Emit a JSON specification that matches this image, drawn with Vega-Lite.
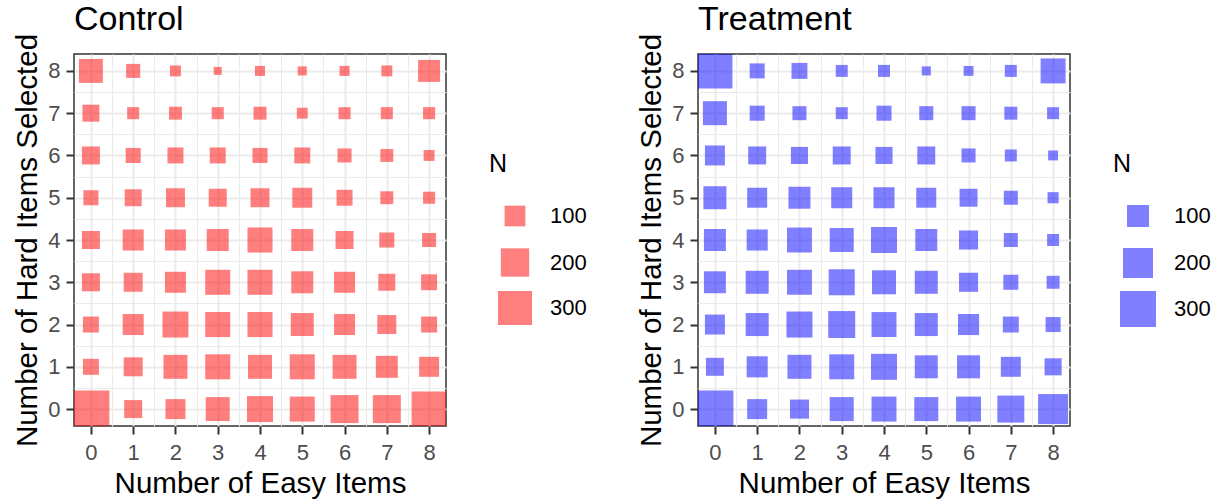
{
  "$schema": "https://vega.github.io/schema/vega-lite/v6.json",
  "padding": {"left": 12, "top": 2, "right": 0, "bottom": 0},
  "config": {
    "font": "Liberation Sans",
    "view": {"stroke": "#333333", "strokeWidth": 1.5},
    "axis": {
      "domain": false,
      "gridColor": "#EBEBEB",
      "tickColor": "#333333",
      "tickWidth": 2,
      "tickSize": 8,
      "labelFontSize": 22,
      "labelColor": "#4D4D4D",
      "titleFontSize": 29.5,
      "titleFontWeight": "normal",
      "titleColor": "#000000"
    },
    "axisX": {"labelPadding": 8, "titlePadding": 6},
    "axisY": {"labelPadding": 6, "titlePadding": 5},
    "legend": {
      "titleFontSize": 25,
      "titleFontWeight": "normal",
      "titleColor": "#000000",
      "labelFontSize": 22,
      "labelColor": "#000000",
      "labelOffset": 18,
      "titlePadding": 28,
      "gridAlign": "all",
      "symbolType": "square",
      "symbolStrokeWidth": 0,
      "symbolOpacity": 0.5
    },
    "title": {"fontSize": 34, "fontWeight": "normal", "color": "#000000", "anchor": "start", "frame": "group", "offset": -4}
  },
  "datasets": {
    "control": [
      {"easy": 0, "hard": 8, "N": 138}, {"easy": 1, "hard": 8, "N": 42}, {"easy": 2, "hard": 8, "N": 24}, {"easy": 3, "hard": 8, "N": 12}, {"easy": 4, "hard": 8, "N": 20}, {"easy": 5, "hard": 8, "N": 16}, {"easy": 6, "hard": 8, "N": 20}, {"easy": 7, "hard": 8, "N": 24}, {"easy": 8, "hard": 8, "N": 114},
      {"easy": 0, "hard": 7, "N": 64}, {"easy": 1, "hard": 7, "N": 30}, {"easy": 2, "hard": 7, "N": 35}, {"easy": 3, "hard": 7, "N": 30}, {"easy": 4, "hard": 7, "N": 35}, {"easy": 5, "hard": 7, "N": 24}, {"easy": 6, "hard": 7, "N": 30}, {"easy": 7, "hard": 7, "N": 30}, {"easy": 8, "hard": 7, "N": 30},
      {"easy": 0, "hard": 6, "N": 73}, {"easy": 1, "hard": 6, "N": 49}, {"easy": 2, "hard": 6, "N": 56}, {"easy": 3, "hard": 6, "N": 56}, {"easy": 4, "hard": 6, "N": 49}, {"easy": 5, "hard": 6, "N": 56}, {"easy": 6, "hard": 6, "N": 42}, {"easy": 7, "hard": 6, "N": 35}, {"easy": 8, "hard": 6, "N": 24},
      {"easy": 0, "hard": 5, "N": 49}, {"easy": 1, "hard": 5, "N": 64}, {"easy": 2, "hard": 5, "N": 82}, {"easy": 3, "hard": 5, "N": 73}, {"easy": 4, "hard": 5, "N": 82}, {"easy": 5, "hard": 5, "N": 92}, {"easy": 6, "hard": 5, "N": 56}, {"easy": 7, "hard": 5, "N": 35}, {"easy": 8, "hard": 5, "N": 30},
      {"easy": 0, "hard": 4, "N": 73}, {"easy": 1, "hard": 4, "N": 103}, {"easy": 2, "hard": 4, "N": 103}, {"easy": 3, "hard": 4, "N": 114}, {"easy": 4, "hard": 4, "N": 152}, {"easy": 5, "hard": 4, "N": 114}, {"easy": 6, "hard": 4, "N": 73}, {"easy": 7, "hard": 4, "N": 49}, {"easy": 8, "hard": 4, "N": 42},
      {"easy": 0, "hard": 3, "N": 73}, {"easy": 1, "hard": 3, "N": 82}, {"easy": 2, "hard": 3, "N": 103}, {"easy": 3, "hard": 3, "N": 152}, {"easy": 4, "hard": 3, "N": 152}, {"easy": 5, "hard": 3, "N": 114}, {"easy": 6, "hard": 3, "N": 103}, {"easy": 7, "hard": 3, "N": 64}, {"easy": 8, "hard": 3, "N": 56},
      {"easy": 0, "hard": 2, "N": 56}, {"easy": 1, "hard": 2, "N": 103}, {"easy": 2, "hard": 2, "N": 165}, {"easy": 3, "hard": 2, "N": 152}, {"easy": 4, "hard": 2, "N": 152}, {"easy": 5, "hard": 2, "N": 126}, {"easy": 6, "hard": 2, "N": 103}, {"easy": 7, "hard": 2, "N": 82}, {"easy": 8, "hard": 2, "N": 56},
      {"easy": 0, "hard": 1, "N": 56}, {"easy": 1, "hard": 1, "N": 82}, {"easy": 2, "hard": 1, "N": 138}, {"easy": 3, "hard": 1, "N": 152}, {"easy": 4, "hard": 1, "N": 138}, {"easy": 5, "hard": 1, "N": 152}, {"easy": 6, "hard": 1, "N": 138}, {"easy": 7, "hard": 1, "N": 114}, {"easy": 8, "hard": 1, "N": 92},
      {"easy": 0, "hard": 0, "N": 362}, {"easy": 1, "hard": 0, "N": 73}, {"easy": 2, "hard": 0, "N": 92}, {"easy": 3, "hard": 0, "N": 138}, {"easy": 4, "hard": 0, "N": 165}, {"easy": 5, "hard": 0, "N": 152}, {"easy": 6, "hard": 0, "N": 195}, {"easy": 7, "hard": 0, "N": 195}, {"easy": 8, "hard": 0, "N": 320}
    ],
    "treatment": [
      {"easy": 0, "hard": 8, "N": 282}, {"easy": 1, "hard": 8, "N": 43}, {"easy": 2, "hard": 8, "N": 49}, {"easy": 3, "hard": 8, "N": 26}, {"easy": 4, "hard": 8, "N": 26}, {"easy": 5, "hard": 8, "N": 14}, {"easy": 6, "hard": 8, "N": 17}, {"easy": 7, "hard": 8, "N": 26}, {"easy": 8, "hard": 8, "N": 133},
      {"easy": 0, "hard": 7, "N": 122}, {"easy": 1, "hard": 7, "N": 43}, {"easy": 2, "hard": 7, "N": 37}, {"easy": 3, "hard": 7, "N": 26}, {"easy": 4, "hard": 7, "N": 43}, {"easy": 5, "hard": 7, "N": 37}, {"easy": 6, "hard": 7, "N": 37}, {"easy": 7, "hard": 7, "N": 31}, {"easy": 8, "hard": 7, "N": 26},
      {"easy": 0, "hard": 6, "N": 81}, {"easy": 1, "hard": 6, "N": 64}, {"easy": 2, "hard": 6, "N": 57}, {"easy": 3, "hard": 6, "N": 64}, {"easy": 4, "hard": 6, "N": 57}, {"easy": 5, "hard": 6, "N": 64}, {"easy": 6, "hard": 6, "N": 37}, {"easy": 7, "hard": 6, "N": 26}, {"easy": 8, "hard": 6, "N": 17},
      {"easy": 0, "hard": 5, "N": 111}, {"easy": 1, "hard": 5, "N": 81}, {"easy": 2, "hard": 5, "N": 100}, {"easy": 3, "hard": 5, "N": 91}, {"easy": 4, "hard": 5, "N": 91}, {"easy": 5, "hard": 5, "N": 81}, {"easy": 6, "hard": 5, "N": 64}, {"easy": 7, "hard": 5, "N": 37}, {"easy": 8, "hard": 5, "N": 22},
      {"easy": 0, "hard": 4, "N": 100}, {"easy": 1, "hard": 4, "N": 91}, {"easy": 2, "hard": 4, "N": 133}, {"easy": 3, "hard": 4, "N": 122}, {"easy": 4, "hard": 4, "N": 146}, {"easy": 5, "hard": 4, "N": 100}, {"easy": 6, "hard": 4, "N": 73}, {"easy": 7, "hard": 4, "N": 37}, {"easy": 8, "hard": 4, "N": 26},
      {"easy": 0, "hard": 3, "N": 100}, {"easy": 1, "hard": 3, "N": 111}, {"easy": 2, "hard": 3, "N": 133}, {"easy": 3, "hard": 3, "N": 146}, {"easy": 4, "hard": 3, "N": 122}, {"easy": 5, "hard": 3, "N": 111}, {"easy": 6, "hard": 3, "N": 73}, {"easy": 7, "hard": 3, "N": 43}, {"easy": 8, "hard": 3, "N": 31},
      {"easy": 0, "hard": 2, "N": 81}, {"easy": 1, "hard": 2, "N": 111}, {"easy": 2, "hard": 2, "N": 146}, {"easy": 3, "hard": 2, "N": 158}, {"easy": 4, "hard": 2, "N": 133}, {"easy": 5, "hard": 2, "N": 111}, {"easy": 6, "hard": 2, "N": 91}, {"easy": 7, "hard": 2, "N": 49}, {"easy": 8, "hard": 2, "N": 43},
      {"easy": 0, "hard": 1, "N": 64}, {"easy": 1, "hard": 1, "N": 91}, {"easy": 2, "hard": 1, "N": 122}, {"easy": 3, "hard": 1, "N": 133}, {"easy": 4, "hard": 1, "N": 146}, {"easy": 5, "hard": 1, "N": 111}, {"easy": 6, "hard": 1, "N": 111}, {"easy": 7, "hard": 1, "N": 81}, {"easy": 8, "hard": 1, "N": 57},
      {"easy": 0, "hard": 0, "N": 319}, {"easy": 1, "hard": 0, "N": 81}, {"easy": 2, "hard": 0, "N": 73}, {"easy": 3, "hard": 0, "N": 122}, {"easy": 4, "hard": 0, "N": 133}, {"easy": 5, "hard": 0, "N": 122}, {"easy": 6, "hard": 0, "N": 133}, {"easy": 7, "hard": 0, "N": 158}, {"easy": 8, "hard": 0, "N": 200}
    ]
  },
  "bounds": "flush",
  "spacing": 252,
  "resolve": {"scale": {"size": "independent"}, "legend": {"size": "independent"}},
  "hconcat": [
    {
      "title": {"text": "Control"},
      "width": 372,
      "height": 372,
      "data": {"name": "control"},
      "layer": [
        {
          "mark": {"type": "square", "opacity": 0},
          "encoding": {
            "x": {"field": "easy", "type": "quantitative", "scale": {"domain": [-0.4, 8.4], "nice": false, "zero": false},
                  "axis": {"orient": "bottom", "values": [0.5, 1.5, 2.5, 3.5, 4.5, 5.5, 6.5, 7.5], "grid": true, "gridWidth": 1, "labels": false, "ticks": false, "title": null}},
            "y": {"field": "hard", "type": "quantitative", "scale": {"domain": [-0.4, 8.4], "nice": false, "zero": false},
                  "axis": {"orient": "left", "values": [0.5, 1.5, 2.5, 3.5, 4.5, 5.5, 6.5, 7.5], "grid": true, "gridWidth": 1, "labels": false, "ticks": false, "title": null}}
          }
        },
        {
          "mark": {"type": "square", "color": "#FF0000", "opacity": 0.5, "clip": true},
          "encoding": {
            "x": {"field": "easy", "type": "quantitative", "scale": {"domain": [-0.4, 8.4], "nice": false, "zero": false},
                  "axis": {"orient": "bottom", "title": "Number of Easy Items", "values": [0, 1, 2, 3, 4, 5, 6, 7, 8], "format": "d", "grid": true, "gridWidth": 2}},
            "y": {"field": "hard", "type": "quantitative", "scale": {"domain": [-0.4, 8.4], "nice": false, "zero": false},
                  "axis": {"orient": "left", "title": "Number of Hard Items Selected", "values": [0, 1, 2, 3, 4, 5, 6, 7, 8], "format": "d", "grid": true, "gridWidth": 2}},
            "size": {"field": "N", "type": "quantitative",
                     "scale": {"type": "pow", "exponent": 0.9, "domain": [0, 300], "range": [0, 1156]},
                     "legend": {"title": "N", "values": [100, 200, 300], "orient": "none", "legendX": 415, "legendY": 98, "symbolOffset": 9, "rowPadding": 9, "symbolFillColor": "#FF0000"}}
          }
        }
      ],
      "resolve": {"axis": {"x": "independent", "y": "independent"}}
    },
    {
      "title": {"text": "Treatment"},
      "width": 372,
      "height": 372,
      "data": {"name": "treatment"},
      "layer": [
        {
          "mark": {"type": "square", "opacity": 0},
          "encoding": {
            "x": {"field": "easy", "type": "quantitative", "scale": {"domain": [-0.4, 8.4], "nice": false, "zero": false},
                  "axis": {"orient": "bottom", "values": [0.5, 1.5, 2.5, 3.5, 4.5, 5.5, 6.5, 7.5], "grid": true, "gridWidth": 1, "labels": false, "ticks": false, "title": null}},
            "y": {"field": "hard", "type": "quantitative", "scale": {"domain": [-0.4, 8.4], "nice": false, "zero": false},
                  "axis": {"orient": "left", "values": [0.5, 1.5, 2.5, 3.5, 4.5, 5.5, 6.5, 7.5], "grid": true, "gridWidth": 1, "labels": false, "ticks": false, "title": null}}
          }
        },
        {
          "mark": {"type": "square", "color": "#0000FF", "opacity": 0.5, "clip": true},
          "encoding": {
            "x": {"field": "easy", "type": "quantitative", "scale": {"domain": [-0.4, 8.4], "nice": false, "zero": false},
                  "axis": {"orient": "bottom", "title": "Number of Easy Items", "values": [0, 1, 2, 3, 4, 5, 6, 7, 8], "format": "d", "grid": true, "gridWidth": 2}},
            "y": {"field": "hard", "type": "quantitative", "scale": {"domain": [-0.4, 8.4], "nice": false, "zero": false},
                  "axis": {"orient": "left", "title": "Number of Hard Items Selected", "values": [0, 1, 2, 3, 4, 5, 6, 7, 8], "format": "d", "grid": true, "gridWidth": 2}},
            "size": {"field": "N", "type": "quantitative",
                     "scale": {"type": "pow", "exponent": 0.9, "domain": [0, 300], "range": [0, 1296]},
                     "legend": {"title": "N", "values": [100, 200, 300], "orient": "none", "legendX": 415, "legendY": 98, "symbolOffset": 7, "rowPadding": 7, "symbolFillColor": "#0000FF"}}
          }
        }
      ],
      "resolve": {"axis": {"x": "independent", "y": "independent"}}
    }
  ]
}
